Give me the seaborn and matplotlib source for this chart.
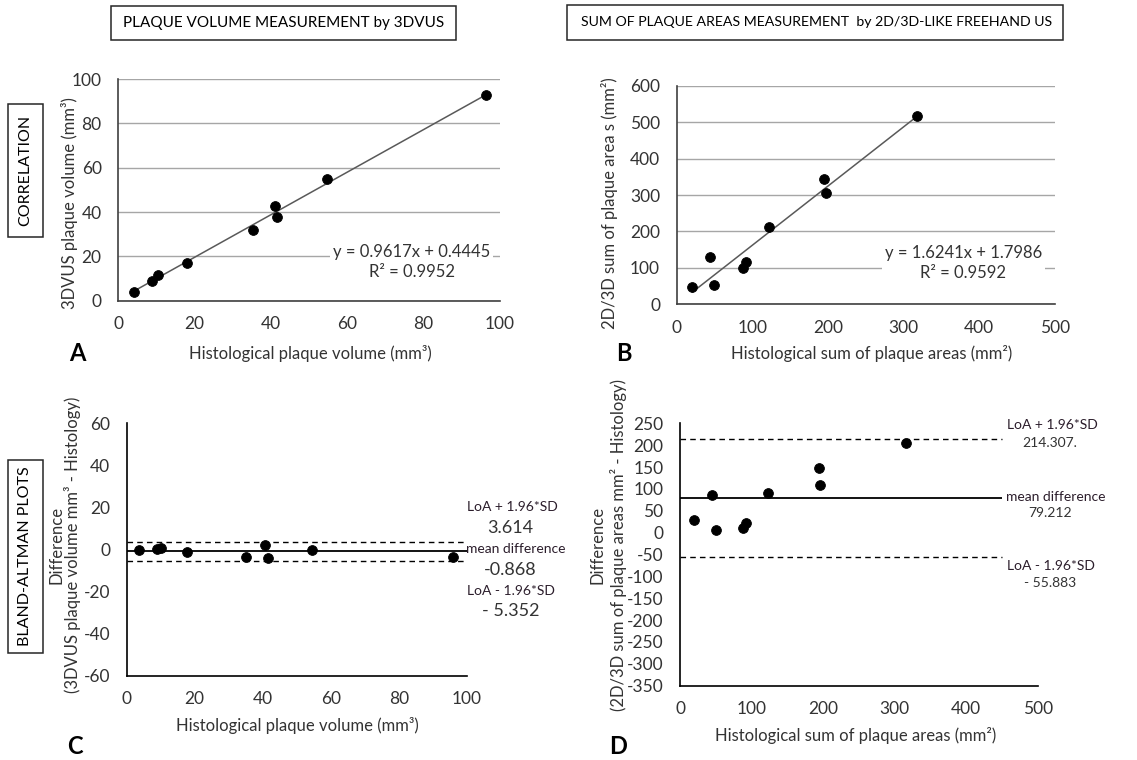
import numpy as np
import pandas as pd
import seaborn as sns
import matplotlib
matplotlib.use("Agg")
import matplotlib.pyplot as plt
from matplotlib.patches import Rectangle

# ---------------- data ----------------
hist_volume = [4.1, 8.7, 10.3, 18.0, 35.3, 41.0, 41.6, 54.8, 96.3]
us_volume = [4.1, 8.9, 11.6, 17.0, 31.9, 42.9, 37.6, 54.7, 92.6]

ba_vol_x = [3.7, 8.8, 10.0, 17.8, 35.2, 40.8, 41.5, 54.6, 96.1]
ba_vol_diff = [-0.2, 0.2, 1.0, -1.3, -3.5, 2.1, -4.1, -0.2, -3.3]

hist_area = [20.7, 43.6, 49.8, 87.2, 91.6, 122.0, 195.0, 197.0, 317.0]
us_area = [46.7, 129.0, 54.0, 98.8, 115.0, 213.0, 343.0, 306.0, 518.0]

ba_area_x = [20.0, 44.3, 49.9, 87.6, 92.3, 122.6, 194.8, 196.2, 316.5]
ba_area_diff = [29.0, 85.4, 6.9, 11.4, 22.9, 91.5, 147.9, 109.8, 204.0]

vol_loa_upper, vol_mean, vol_loa_lower = 3.614, -0.868, -5.352
area_loa_upper, area_mean, area_loa_lower = 214.307, 79.212, -55.883

eq_vol = ["y = 0.9617x + 0.4445", "R² = 0.9952"]
eq_area = ["y = 1.6241x + 1.7986", "R² = 0.9592"]

# ---------------- style ----------------
sns.set_theme(style="white")
plt.rcParams["font.family"] = ["Lato", "DejaVu Sans"]
plt.rcParams["axes.unicode_minus"] = False

W, H = 1137, 760
fig = plt.figure(figsize=(W / 100, H / 100), dpi=100)


def rect(x0, x1, ytop, ybot):
    return [x0 / W, 1 - ybot / H, (x1 - x0) / W, (ybot - ytop) / H]


def fx(px):
    return px / W


def fy(py):
    return 1 - py / H


TXT = "#333333"
FS = 12
TFS = 12.5

boxes = {
    "A": (118.3, 500, 79, 300.7),
    "B": (676.7, 1055, 85.7, 304.3),
    "C": (126.7, 466.7, 423.3, 676),
    "D": (680, 1037.7, 423.3, 685.7),
}
axes = {k: fig.add_axes(rect(*v)) for k, v in boxes.items()}


def label_at(ax, key, xlab_c, ylab_c):
    x0, x1, yt, yb = boxes[key]
    ax.xaxis.set_label_coords((xlab_c[0] - x0) / (x1 - x0), (yb - xlab_c[1]) / (yb - yt))
    ax.yaxis.set_label_coords((ylab_c[0] - x0) / (x1 - x0), (yb - ylab_c[1]) / (yb - yt))
    ax.xaxis.label.set_va("center")
    ax.yaxis.label.set_va("center")


def base_style(ax):
    for s in ["top", "right"]:
        ax.spines[s].set_visible(False)
    for s in ["left", "bottom"]:
        ax.spines[s].set_color("#404040")
        ax.spines[s].set_linewidth(1.2)
    ax.tick_params(length=0, labelsize=TFS, labelcolor=TXT)
    ax.tick_params(axis="y", pad=12)
    ax.tick_params(axis="x", pad=11)


# ---------------- A ----------------
ax = axes["A"]
base_style(ax)
df_a = pd.DataFrame({"hist": hist_volume, "us": us_volume})
sns.regplot(data=df_a, x="hist", y="us", ci=None, scatter=False, ax=ax,
            line_kws=dict(color="#595959", lw=1.1))
sns.scatterplot(data=df_a, x="hist", y="us", ax=ax, color="black", s=50,
                edgecolor="black", zorder=4)
ax.set_xlim(0, 100)
ax.set_ylim(0, 100)
ax.set_xticks(range(0, 101, 20))
ax.set_yticks(range(0, 101, 20))
ax.grid(axis="y", color="#a6a6a6", lw=1)
ax.set_axisbelow(True)
ax.set_xlabel("Histological plaque volume (mm³)", fontsize=FS, color=TXT)
ax.set_ylabel("3DVUS plaque volume (mm³)", fontsize=FS, color=TXT)
label_at(ax, "A", (310, 353), (70, 203))
ax.text(76.9, 17.5, eq_vol[0] + "\n" + eq_vol[1], ha="center", va="center",
        fontsize=FS, color=TXT, linespacing=1.35,
        bbox=dict(facecolor="white", edgecolor="none", pad=2))

# ---------------- B ----------------
ax = axes["B"]
base_style(ax)
df_b = pd.DataFrame({"hist": hist_area, "us": us_area})
sns.regplot(data=df_b, x="hist", y="us", ci=None, scatter=False, ax=ax,
            line_kws=dict(color="#595959", lw=1.1))
sns.scatterplot(data=df_b, x="hist", y="us", ax=ax, color="black", s=50,
                edgecolor="black", zorder=4)
ax.set_xlim(0, 500)
ax.set_ylim(0, 600)
ax.set_xticks(range(0, 501, 100))
ax.set_yticks(range(0, 601, 100))
ax.grid(axis="y", color="#a6a6a6", lw=1)
ax.set_axisbelow(True)
ax.set_xlabel("Histological sum of plaque areas (mm²)", fontsize=FS, color=TXT)
ax.set_ylabel("2D/3D sum of plaque area s (mm²)", fontsize=FS, color=TXT)
label_at(ax, "B", (872, 353), (610, 203))
ax.text(379, 113, eq_area[0] + "\n" + eq_area[1], ha="center", va="center",
        fontsize=FS, color=TXT, linespacing=1.35,
        bbox=dict(facecolor="white", edgecolor="none", pad=2))

# ---------------- C ----------------
ax = axes["C"]
base_style(ax)
df_c = pd.DataFrame({"mean": ba_vol_x, "diff": ba_vol_diff})
ax.axhline(vol_loa_upper, color="black", lw=1, ls=(0, (4, 3)))
ax.axhline(vol_loa_lower, color="black", lw=1, ls=(0, (4, 3)))
ax.axhline(vol_mean, color="black", lw=1.3)
sns.scatterplot(data=df_c, x="mean", y="diff", ax=ax, color="black", s=50,
                edgecolor="black", zorder=4)
ax.set_xlim(0, 100)
ax.set_ylim(-60, 60)
ax.set_xticks(range(0, 101, 20))
ax.set_yticks(range(-60, 61, 20))
ax.spines["bottom"].set_color("black")
ax.spines["left"].set_color("black")
ax.set_xlabel("Histological plaque volume (mm³)", fontsize=FS, color=TXT)
ax.set_ylabel("Difference\n(3DVUS plaque volume mm³ - Histology)", fontsize=FS,
              color=TXT, linespacing=1.0)
label_at(ax, "C", (297.6, 725), (65, 545))

# ---------------- D ----------------
ax = axes["D"]
base_style(ax)
df_d = pd.DataFrame({"mean": ba_area_x, "diff": ba_area_diff})
ax.hlines([area_loa_upper, area_loa_lower], 0, 450, color="black", lw=1,
          ls=(0, (4, 3)))
ax.hlines(area_mean, 0, 450, color="black", lw=1.3)
sns.scatterplot(data=df_d, x="mean", y="diff", ax=ax, color="black", s=50,
                edgecolor="black", zorder=4)
ax.set_xlim(0, 500)
ax.set_ylim(-350, 250)
ax.set_xticks(range(0, 501, 100))
ax.set_yticks(range(-350, 251, 50))
ax.spines["bottom"].set_color("black")
ax.spines["left"].set_color("black")
ax.set_xlabel("Histological sum of plaque areas (mm²)", fontsize=FS, color=TXT)
ax.set_ylabel("Difference\n(2D/3D sum of plaque areas mm² - Histology)", fontsize=FS,
              color=TXT, linespacing=1.3)
label_at(ax, "D", (856, 735), (608, 545))

# ---------------- annotations (Bland-Altman) ----------------
SMALL = 10
ANN = "#2b1d2b"
fig.text(fx(467), fy(507), "LoA + 1.96*SD", fontsize=SMALL, color=ANN, ha="left", va="center")
fig.text(fx(510), fy(528), f"{vol_loa_upper:.3f}", fontsize=FS + 1, color=TXT, ha="center", va="center")
fig.text(fx(466), fy(549), "mean difference", fontsize=SMALL, color=ANN, ha="left", va="center")
fig.text(fx(510), fy(570), f"{vol_mean:.3f}", fontsize=FS + 1, color=TXT, ha="center", va="center")
fig.text(fx(467), fy(591), "LoA - 1.96*SD", fontsize=SMALL, color=ANN, ha="left", va="center")
fig.text(fx(511), fy(611), f"- {abs(vol_loa_lower):.3f}", fontsize=FS + 1, color=TXT, ha="center", va="center")

fig.text(fx(1007), fy(425), "LoA + 1.96*SD", fontsize=SMALL, color=ANN, ha="left", va="center")
fig.text(fx(1050), fy(443), f"{area_loa_upper:.3f}.", fontsize=SMALL, color=TXT, ha="center", va="center")
fig.text(fx(1006), fy(497), "mean difference", fontsize=SMALL, color=ANN, ha="left", va="center")
fig.text(fx(1050), fy(513), f"{area_mean:.3f}", fontsize=SMALL, color=TXT, ha="center", va="center")
fig.text(fx(1007), fy(566), "LoA - 1.96*SD", fontsize=SMALL, color=ANN, ha="left", va="center")
fig.text(fx(1050), fy(583), f"- {abs(area_loa_lower):.3f}", fontsize=SMALL, color=TXT, ha="center", va="center")

# ---------------- panel letters ----------------
for letter, (px, py) in {"A": (77, 353), "B": (624, 353), "C": (75, 746), "D": (618, 746)}.items():
    fig.text(fx(px), fy(py), letter, fontsize=17, fontweight="bold", color="black",
             ha="center", va="center")

# ---------------- header boxes ----------------
def box(x0, x1, y0, y1, text, rot=0, fs=11, tx=None):
    fig.patches.append(Rectangle((fx(x0), fy(y1)), (x1 - x0) / W, (y1 - y0) / H,
                                 transform=fig.transFigure, fill=False,
                                 edgecolor="#262626", lw=1.1))
    cx = (x0 + x1) / 2 if tx is None else tx
    fig.text(fx(cx), fy((y0 + y1) / 2), text, rotation=rot,
             ha="center", va="center", fontsize=fs, color="black")


box(111, 456, 6, 40, "PLAQUE VOLUME MEASUREMENT by 3DVUS")
box(567, 1063, 5, 40, "SUM OF PLAQUE AREAS MEASUREMENT  by 2D/3D-LIKE FREEHAND US", fs=10.2, tx=817)
box(8, 43, 104, 237, "CORRELATION", rot=90, fs=11.5)
box(8, 43, 460, 653, "BLAND-ALTMAN PLOTS", rot=90, fs=11.5)

fig.savefig("out.png", dpi=100, facecolor="white")
